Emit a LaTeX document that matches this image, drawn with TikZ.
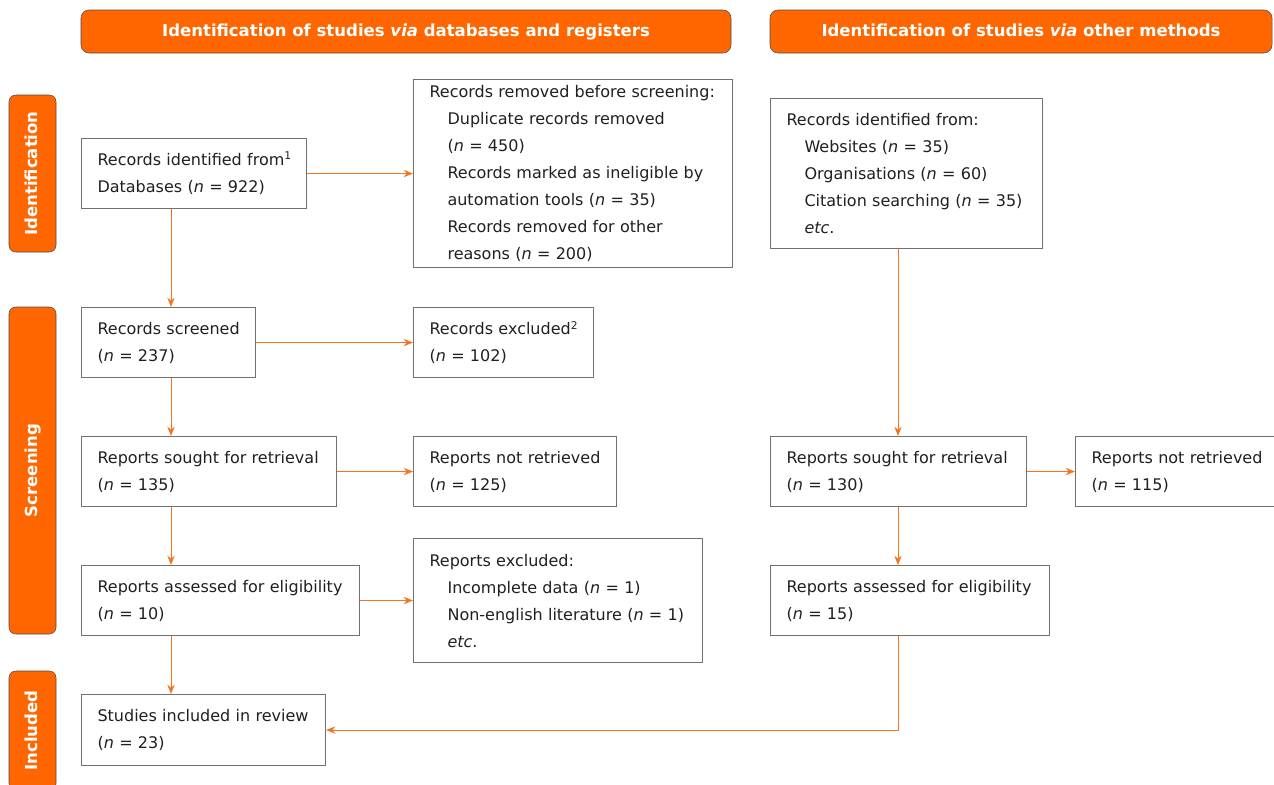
\documentclass[tikz,border=0pt]{standalone}
\usepackage{fontspec}
\setmainfont{DejaVu Sans}
\usetikzlibrary{arrows.meta}

\definecolor{prismaorange}{HTML}{FF6600}
\definecolor{arrorange}{HTML}{F5741E}
\definecolor{boxgray}{HTML}{757070}
\definecolor{txtdark}{HTML}{231F20}

\newcommand{\ind}{\hspace*{13.5pt}}
\newcommand{\nn}{\textit{n}}

\begin{document}
\begin{tikzpicture}[x=0.75pt,y=-0.75pt,
    box/.style={draw=boxgray, line width=0.8pt, fill=white, anchor=north west, align=left,
        inner xsep=12pt, inner ysep=2pt, text=txtdark,
        font=\fontsize{12pt}{20.25pt}\selectfont},
    headbox/.style={draw=black!70, fill=prismaorange, rounded corners=6pt, text=white,
        font=\fontsize{12.4pt}{14pt}\selectfont\bfseries, minimum height=32.25pt,
        text height=0.85em, text depth=0.15em},
    sidebox/.style={headbox, rotate=90, minimum height=35.25pt, rounded corners=5pt},
    arr/.style={draw=arrorange, line width=0.7pt, -{Stealth[length=7pt,width=5.5pt]}}]

    \useasboundingbox (0,0) rectangle (1274,785);

    % headers
    \node[headbox, minimum width=487.5pt] (hdb) at (406,31.5) {Identification of studies \textit{via} databases and registers};
    \node[headbox, minimum width=376.5pt] (hot) at (1021,31.5) {Identification of studies \textit{via} other methods};

    \node[sidebox, minimum width=117.75pt] (sid) at (32.5,173.5) {Identification};
    \node[sidebox, minimum width=245.25pt] (sscr) at (32.5,470.5) {Screening};
    \node[sidebox, minimum width=89.25pt] (sinc) at (32.5,730.5) {Included};

    % databases and registers
    \node[box, text width=144.75pt, minimum height=52.5pt] (dbrec) at (81,138)
        {\mbox{Records identified from\textsuperscript{1}}\\Databases (\nn{} = 922)};
    \node[box, text width=215.25pt, minimum height=141pt] (removed) at (413,79)
        {Records removed before screening:\\
         \ind Duplicate records removed\\
         \ind (\nn{} = 450)\\
         \ind Records marked as ineligible by\\
         \ind automation tools (\nn{} = 35)\\
         \ind Records removed for other\\
         \ind reasons (\nn{} = 200)};
    \node[box, text width=106.5pt, minimum height=52.5pt] (screened) at (81,307)
        {\mbox{Records screened}\\(\nn{} = 237)};
    \node[box, text width=111pt, minimum height=52.5pt] (excl) at (413,307)
        {\mbox{Records excluded\textsuperscript{2}}\\(\nn{} = 102)};
    \node[box, text width=167.25pt, minimum height=52.5pt] (sought) at (81,436)
        {Reports sought for retrieval\\(\nn{} = 135)};
    \node[box, text width=128.25pt, minimum height=52.5pt] (notret) at (413,436)
        {Reports not retrieved\\(\nn{} = 125)};
    \node[box, text width=184.5pt, minimum height=52.5pt] (assessed) at (81,565)
        {Reports assessed for eligibility\\(\nn{} = 10)};
    \node[box, text width=192.75pt, minimum height=93pt] (repexcl) at (413,538)
        {Reports excluded:\\
         \ind Incomplete data (\nn{} = 1)\\
         \ind Non-english literature (\nn{} = 1)\\
         \ind \textit{etc}.};
    \node[box, text width=159pt, minimum height=53.25pt] (included) at (81,694)
        {Studies included in review\\(\nn{} = 23)};

    % other methods
    \node[box, text width=180pt, minimum height=112.5pt] (othrec) at (770,98)
        {Records identified from:\\
         \ind Websites (\nn{} = 35)\\
         \ind Organisations (\nn{} = 60)\\
         \ind Citation searching (\nn{} = 35)\\
         \ind \textit{etc}.};
    \node[box, text width=168pt, minimum height=52.5pt] (othsought) at (770,436)
        {Reports sought for retrieval\\(\nn{} = 130)};
    \node[box, text width=129.75pt, minimum height=52.5pt] (othnotret) at (1075,436)
        {Reports not retrieved\\(\nn{} = 115)};
    \node[box, text width=185.25pt, minimum height=52.5pt] (othassessed) at (770,565)
        {Reports assessed for eligibility\\(\nn{} = 15)};

    \coordinate (lcol) at (171,0);
    \coordinate (rcol) at (898,0);

    % arrows
    \draw[arr] (dbrec.east) -- (removed.west);
    \draw[arr] (screened.east) -- (excl.west);
    \draw[arr] (sought.east) -- (notret.west);
    \draw[arr] (assessed.east) -- (repexcl.west);
    \draw[arr] (othsought.east) -- (othnotret.west);

    \draw[arr] (dbrec.south -| lcol) -- (screened.north -| lcol);
    \draw[arr] (screened.south -| lcol) -- (sought.north -| lcol);
    \draw[arr] (sought.south -| lcol) -- (assessed.north -| lcol);
    \draw[arr] (assessed.south -| lcol) -- (included.north -| lcol);

    \draw[arr] (othrec.south -| rcol) -- (othsought.north -| rcol);
    \draw[arr] (othsought.south -| rcol) -- (othassessed.north -| rcol);
    \draw[arr] (othassessed.south -| rcol) |- (included.east);

\end{tikzpicture}
\end{document}
